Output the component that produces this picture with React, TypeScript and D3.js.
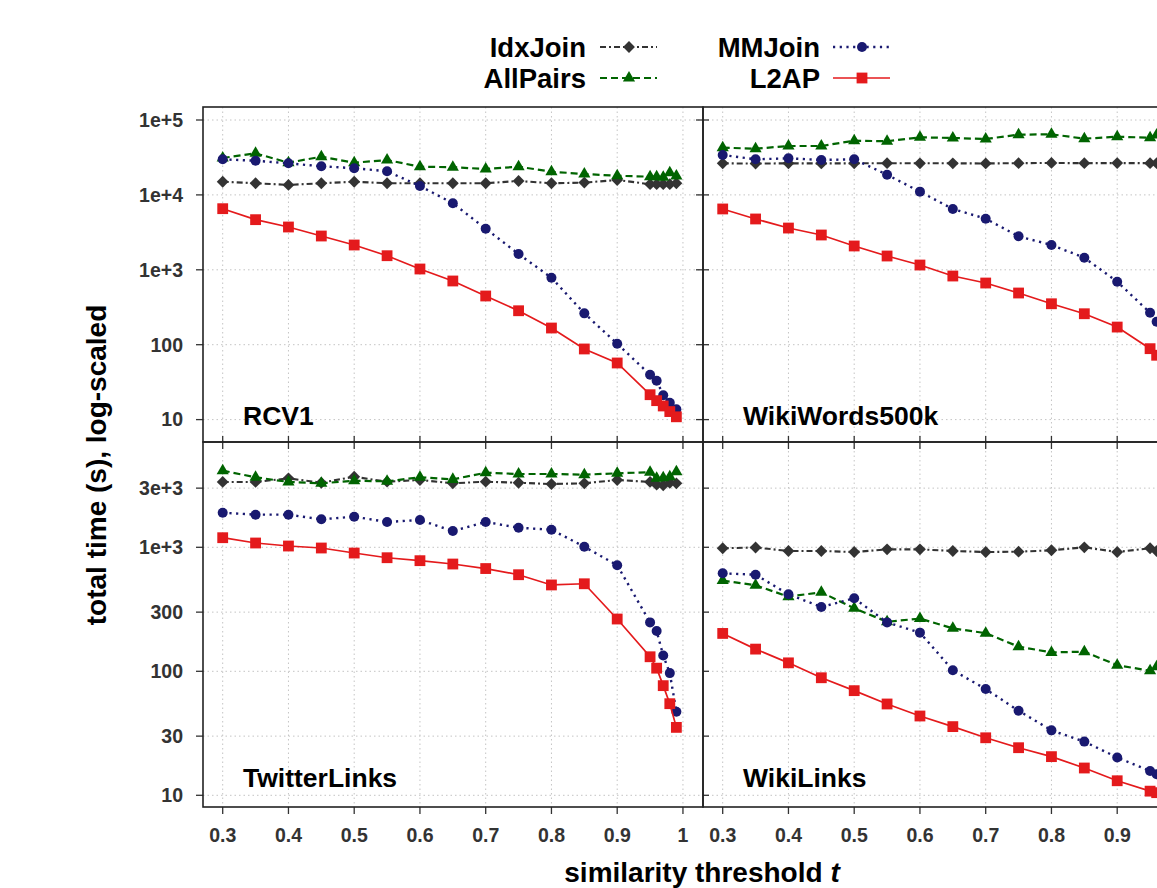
import React, {Component} from 'react';
import * as d3 from 'd3';

// similarity thresholds (x values)
const thresholds = [0.3, 0.35, 0.4, 0.45, 0.5, 0.55, 0.6, 0.65, 0.7, 0.75, 0.8, 0.85, 0.9, 0.95, 0.96, 0.97, 0.98, 0.99];

const seriesNames = ['IdxJoin', 'AllPairs', 'MMJoin', 'L2AP'];

// RCV1
const rcv1IdxJoin = [15000, 14300, 13600, 14300, 15000, 14300, 14300, 14300, 14300, 15350, 14300, 14600, 15800, 13900, 13900, 13900, 13900, 14300];
const rcv1AllPairs = [31100, 35900, 26900, 32400, 26900, 29200, 23800, 23400, 22200, 23800, 20400, 19000, 18000, 17500, 17500, 17200, 19800, 17900];
const rcv1MMJoin = [29850, 28600, 26400, 24100, 22700, 20700, 13150, 7730, 3540, 1626, 784, 262, 103, 39.7, 33, 21.1, 16.8, 13.7];
const rcv1L2AP = [6546, 4670, 3727, 2826, 2143, 1542, 1025, 709, 447, 284, 167, 87.7, 57, 21.5, 17.9, 15.2, 12.8, 10.9];

// WikiWords500k
const wwIdxJoin = [26400, 26200, 26400, 26300, 26400, 26500, 26400, 26400, 26300, 26500, 26700, 26500, 26600, 26500, 26500, 26400, 26500, 26600];
const wwAllPairs = [42700, 41400, 44960, 44960, 52960, 52000, 58750, 57500, 55800, 63700, 64450, 56300, 59800, 58060, 63100, 61000, 62000, 60000];
const wwMMJoin = [34100, 29850, 30800, 29250, 29850, 18600, 11050, 6490, 4810, 2800, 2143, 1452, 693, 267, 203, 150, 110, 80];
const wwL2AP = [6490, 4770, 3610, 2915, 2080, 1528, 1158, 826, 666, 490, 352, 259, 172, 88.5, 72.3, 60, 50, 40];

// TwitterLinks
const twIdxJoin = [3366, 3366, 3597, 3318, 3707, 3381, 3490, 3282, 3381, 3318, 3237, 3282, 3490, 3366, 3200, 3163, 3318, 3282];
const twAllPairs = [4150, 3670, 3366, 3283, 3443, 3405, 3670, 3530, 3997, 3900, 3900, 3850, 3953, 4027, 3597, 3640, 3707, 4074];
const twMMJoin = [1900, 1833, 1833, 1682, 1766, 1600, 1660, 1352, 1600, 1439, 1386, 1011, 717, 248, 211, 134, 96.7, 47.2];
const twL2AP = [1195, 1083, 1024, 987, 899, 824, 780, 733, 674, 601, 497, 508, 264, 131, 106, 76.6, 54.8, 35.3];

// WikiLinks
const wlIdxJoin = [982, 997, 934, 934, 916, 963, 963, 934, 916, 922, 946, 1000, 916, 982, 934, 950, 960, 940];
const wlAllPairs = [539, 494, 400, 434, 322, 251, 266, 222, 203, 158, 142, 144, 112, 101, 109, 104, 100, 96];
const wlMMJoin = [617, 601, 418, 330, 388, 248, 205, 102, 71.9, 48.1, 33.4, 27.1, 20.2, 15.7, 14.8, 12.5, 11, 9.5];
const wlL2AP = [202, 151, 117, 88.7, 69.8, 54.5, 43.6, 35.8, 29.1, 24.2, 20.5, 16.6, 13.1, 10.8, 10.5, 10, 9.4, 8.9];

// ticks
const xTicks = [0.3, 0.4, 0.5, 0.6, 0.7, 0.8, 0.9, 1];
const xTickLabels = ['0.3', '0.4', '0.5', '0.6', '0.7', '0.8', '0.9', '1'];
const topTicks = [10, 100, 1000, 10000, 100000];
const topTickLabels = ['10', '100', '1e+3', '1e+4', '1e+5'];
const bottomTicks = [10, 30, 100, 300, 1000, 3000];
const bottomTickLabels = ['10', '30', '100', '300', '1e+3', '3e+3'];

const colors = ['#333333', '#006400', '#191970', '#e41a1c'];
const dashes = ['6,3,2,3', '7,4', '2.2,4.5', null];
const widths = [2.1, 2.2, 2.4, 1.7];
const FONT = '"Liberation Sans", Arial, Helvetica, sans-serif';
const PAGE_W = 1157;

class App extends Component {
  chartRef: React.RefObject<SVGSVGElement>;
  constructor(props: any) {
    super(props);
    this.Graph = this.Graph.bind(this);
    this.chartRef = React.createRef();
  }

  marker(g: any, i: number, cx: number, cy: number) {
    if (i === 0) {
      g.append('path').attr('d', d3.symbol().type(d3.symbolSquare).size(70)())
        .attr('transform', `translate(${cx},${cy}) rotate(45)`).attr('fill', colors[i]);
    } else if (i === 1) {
      g.append('path').attr('d', d3.symbol().type(d3.symbolTriangle).size(64)())
        .attr('transform', `translate(${cx},${cy})`).attr('fill', colors[i]);
    } else if (i === 2) {
      g.append('circle').attr('cx', cx).attr('cy', cy).attr('r', 5).attr('fill', colors[i]);
    } else {
      g.append('rect').attr('x', cx - 5.4).attr('y', cy - 5.4).attr('width', 10.8).attr('height', 10.8).attr('fill', colors[i]);
    }
  }

  Graph() {
    const svg = d3.select(this.chartRef.current);
    svg.selectAll('*').remove();
    svg.attr('width', PAGE_W).attr('height', 888);

    const panelW = 500;
    const rows = [
      {y0: 107, y1: 442, ticks: topTicks, labels: topTickLabels, scale: d3.scaleLog().domain([10, 100000]).range([419.6, 120])},
      {y0: 442, y1: 807, ticks: bottomTicks, labels: bottomTickLabels, scale: d3.scaleLog().domain([10, 1000]).range([795.3, 547.3])}
    ];
    const panels = [
      {name: 'RCV1', col: 0, row: 0, series: [rcv1IdxJoin, rcv1AllPairs, rcv1MMJoin, rcv1L2AP]},
      {name: 'WikiWords500k', col: 1, row: 0, series: [wwIdxJoin, wwAllPairs, wwMMJoin, wwL2AP]},
      {name: 'TwitterLinks', col: 0, row: 1, series: [twIdxJoin, twAllPairs, twMMJoin, twL2AP]},
      {name: 'WikiLinks', col: 1, row: 1, series: [wlIdxJoin, wlAllPairs, wlMMJoin, wlL2AP]}
    ];

    const defs = svg.append('defs');

    panels.forEach((p, pi) => {
      const r = rows[p.row];
      const x0 = 203 + p.col * panelW;
      const x = d3.scaleLinear().domain([0.3, 1]).range([x0 + 19.7, x0 + 19.7 + 460.25]);
      const y = r.scale;

      defs.append('clipPath').attr('id', 'clip' + pi)
        .append('rect').attr('x', x0).attr('y', r.y0).attr('width', panelW).attr('height', r.y1 - r.y0);

      const graph = svg.append('g');

      // grid
      graph.selectAll('.vgrid').data(xTicks).enter().append('line')
        .attr('x1', d => x(d)).attr('x2', d => x(d)).attr('y1', r.y0).attr('y2', r.y1)
        .attr('stroke', '#c4c4c4').attr('stroke-width', 1).attr('stroke-dasharray', '1.5,3');
      graph.selectAll('.hgrid').data(r.ticks).enter().append('line')
        .attr('x1', x0).attr('x2', x0 + panelW).attr('y1', d => y(d)).attr('y2', d => y(d))
        .attr('stroke', '#c4c4c4').attr('stroke-width', 1).attr('stroke-dasharray', '1.5,3');

      // series
      const plot = graph.append('g').attr('clip-path', `url(#clip${pi})`);
      p.series.forEach((vals, si) => {
        const line = d3.line<number>().x((d, i) => x(thresholds[i])).y(d => y(d));
        plot.append('path').attr('d', line(vals))
          .attr('fill', 'none').attr('stroke', colors[si]).attr('stroke-width', widths[si])
          .attr('stroke-dasharray', dashes[si]);
        vals.forEach((v, i) => this.marker(plot, si, x(thresholds[i]), y(v)));
      });

      // ticks
      const tk = graph.append('g').attr('stroke', '#333').attr('stroke-width', 1.3);
      xTicks.forEach(t => {
        if (p.row === 0) {
          tk.append('line').attr('x1', x(t)).attr('x2', x(t)).attr('y1', r.y1 - 6).attr('y2', r.y1);
        } else {
          tk.append('line').attr('x1', x(t)).attr('x2', x(t)).attr('y1', r.y0).attr('y2', r.y0 + 7);
          tk.append('line').attr('x1', x(t)).attr('x2', x(t)).attr('y1', r.y1).attr('y2', r.y1 + 7);
        }
      });
      r.ticks.forEach(t => {
        if (p.col === 0) {
          tk.append('line').attr('x1', x0 - 7).attr('x2', x0).attr('y1', y(t)).attr('y2', y(t));
          if (p.row === 0) tk.append('line').attr('x1', x0 + panelW - 7).attr('x2', x0 + panelW).attr('y1', y(t)).attr('y2', y(t));
        } else {
          tk.append('line').attr('x1', x0).attr('x2', x0 + 6).attr('y1', y(t)).attr('y2', y(t));
        }
      });

      // tick labels
      if (p.col === 0) {
        r.ticks.forEach((t, i) => {
          graph.append('text').attr('x', 183).attr('y', y(t)).attr('dy', '0.35em')
            .attr('text-anchor', 'end').attr('font-family', FONT).attr('font-weight', 'bold')
            .attr('font-size', 19.5).attr('fill', '#333').text(r.labels[i]);
        });
      }
      if (p.row === 1) {
        xTicks.forEach((t, i) => {
          // labels that fall wholly past the page edge are not shown
          if (x(t) + 6 > PAGE_W) return;
          graph.append('text').attr('x', x(t)).attr('y', 842)
            .attr('text-anchor', 'middle').attr('font-family', FONT).attr('font-weight', 'bold')
            .attr('font-size', 19.5).attr('fill', '#333').text(xTickLabels[i]);
        });
      }

      // panel name
      graph.append('text').attr('x', x0 + 40).attr('y', r.y1 - (p.row === 0 ? 17 : 20.5))
        .attr('font-family', FONT).attr('font-weight', 'bold').attr('font-size', 26.5)
        .attr('fill', '#000').text(p.name);
    });

    // frames
    panels.forEach(p => {
      const r = rows[p.row];
      const x0 = 203 + p.col * panelW;
      svg.append('rect').attr('x', x0).attr('y', r.y0).attr('width', panelW).attr('height', r.y1 - r.y0)
        .attr('fill', 'none').attr('stroke', '#222').attr('stroke-width', 1.6);
    });

    // axis titles
    svg.append('text').attr('transform', 'translate(106,465) rotate(-90)')
      .attr('text-anchor', 'middle').attr('font-family', FONT).attr('font-weight', 'bold')
      .attr('font-size', 28).attr('fill', '#000').text('total time (s), log-scaled');
    const xt = svg.append('text').attr('x', 702).attr('y', 882)
      .attr('text-anchor', 'middle').attr('font-family', FONT).attr('font-weight', 'bold')
      .attr('font-size', 28).attr('fill', '#000');
    xt.append('tspan').text('similarity threshold ');
    xt.append('tspan').attr('font-style', 'italic').text('t');

    // legend
    const legendPos = [
      {tx: 586, lx: 600, y: 47},
      {tx: 586, lx: 600, y: 78},
      {tx: 820, lx: 833, y: 47},
      {tx: 820, lx: 833, y: 78}
    ];
    const legend = svg.append('g');
    seriesNames.forEach((name, si) => {
      const lp = legendPos[si];
      legend.append('text').attr('x', lp.tx).attr('y', lp.y).attr('dy', '0.36em')
        .attr('text-anchor', 'end').attr('font-family', FONT).attr('font-weight', 'bold')
        .attr('font-size', 27.5).attr('fill', '#000').text(name);
      legend.append('line').attr('x1', lp.lx).attr('x2', lp.lx + 57).attr('y1', lp.y).attr('y2', lp.y)
        .attr('stroke', colors[si]).attr('stroke-width', widths[si]).attr('stroke-dasharray', dashes[si]);
      this.marker(legend, si, lp.lx + 29, lp.y);
    });
  }

  componentDidMount() {
    this.Graph();
  }

  componentDidUpdate() {
    this.Graph();
  }

  render() {
    return (
      <div style={{position: 'absolute', left: 0, top: 0, width: PAGE_W, height: 888, overflow: 'hidden', background: '#fff'}}>
        <svg width={PAGE_W} height={888} ref={this.chartRef} style={{display: 'block'}} />
      </div>
    );
  }
}

export default App;
